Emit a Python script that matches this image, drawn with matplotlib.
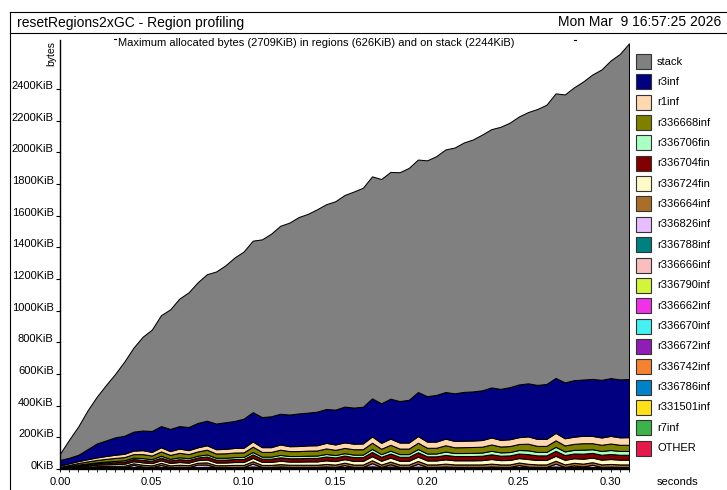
import numpy as np
import matplotlib.pyplot as plt
from matplotlib.lines import Line2D
from matplotlib.patches import Rectangle

plt.rcParams["font.family"] = ["Liberation Sans", "DejaVu Sans"]

W, H = 727, 490

# sample times (seconds)
times = [0.000, 0.005, 0.010, 0.015, 0.020, 0.025, 0.030, 0.035, 0.040, 0.045,
         0.050, 0.055, 0.060, 0.065, 0.070, 0.075, 0.080, 0.085, 0.090, 0.095,
         0.100, 0.105, 0.110, 0.115, 0.120, 0.125, 0.130, 0.135, 0.140, 0.145,
         0.150, 0.155, 0.160, 0.165, 0.170, 0.175, 0.180, 0.185, 0.190, 0.195,
         0.200, 0.205, 0.210, 0.215, 0.220, 0.225, 0.230, 0.235, 0.240, 0.245,
         0.250, 0.255, 0.260, 0.265, 0.270, 0.275, 0.280, 0.285, 0.290, 0.295,
         0.300, 0.305, 0.310]

# KiB per band at each sample
stack = [40, 115, 180, 245, 295, 350, 400, 468, 530, 592,
         640, 700, 755, 805, 850, 888, 925, 960, 990, 1032,
         1055, 1083, 1122, 1153, 1187, 1212, 1240, 1255, 1278, 1293,
         1316, 1336, 1364, 1383, 1402, 1416, 1432, 1445, 1464, 1468,
         1489, 1508, 1532, 1552, 1575, 1591, 1615, 1631, 1655, 1670,
         1692, 1713, 1742, 1763, 1797, 1818, 1849, 1882, 1922, 1960,
         2006, 2055, 2120]
r3inf = [35, 35, 40, 63, 88, 98, 110, 114, 120, 124,
         132, 134, 140, 142, 146, 154, 155, 162, 168, 170,
         184, 185, 190, 195, 194, 200, 206, 207, 212, 214,
         220, 226, 228, 232, 240, 250, 252, 262, 270, 278,
         287, 295, 294, 301, 308, 310, 314, 316, 322, 329,
         333, 335, 341, 347, 347, 353, 357, 355, 360, 364,
         365, 366, 367]
r1inf = [8, 10, 12, 14, 16, 18, 20, 21, 22, 25,
         23, 26, 24, 27, 25, 26, 28, 27, 28, 29,
         29, 33, 30, 30, 33, 31, 32, 33, 33, 35,
         34, 35, 35, 36, 40, 37, 39, 38, 38, 42,
         39, 39, 42, 40, 41, 41, 42, 44, 42, 43,
         43, 46, 44, 44, 47, 45, 45, 47, 46, 46,
         48, 47, 48]
r336668inf = [4, 7, 10, 13, 15, 17, 19, 20, 22, 25,
              23, 27, 25, 28, 26, 27, 30, 27, 28, 29,
              29, 34, 30, 30, 33, 31, 31, 32, 32, 35,
              33, 33, 34, 34, 39, 34, 37, 35, 35, 40,
              36, 36, 40, 36, 37, 37, 37, 40, 37, 38,
              38, 42, 38, 38, 41, 38, 38, 41, 38, 39,
              41, 39, 39]
r336706fin = [2, 3, 4, 5, 6, 7, 8, 9, 9, 11,
              10, 12, 10, 12, 11, 11, 13, 12, 12, 12,
              13, 15, 13, 13, 15, 14, 14, 14, 15, 16,
              15, 15, 16, 16, 19, 17, 18, 17, 17, 20,
              18, 18, 21, 19, 19, 20, 20, 22, 21, 21,
              22, 24, 22, 22, 25, 23, 23, 25, 23, 24,
              25, 24, 24]
r336704fin = [2, 4, 6, 8, 9, 11, 12, 13, 14, 16,
              15, 17, 16, 18, 17, 17, 19, 18, 18, 19,
              19, 22, 20, 20, 22, 21, 21, 22, 22, 24,
              23, 23, 24, 24, 27, 25, 26, 25, 25, 28,
              26, 26, 28, 27, 27, 27, 28, 30, 28, 29,
              29, 31, 29, 29, 32, 30, 30, 32, 30, 31,
              32, 31, 31]
r336724fin = [2, 4, 6, 7, 9, 10, 11, 12, 13, 15,
              14, 16, 15, 17, 16, 16, 18, 17, 17, 18,
              18, 21, 19, 19, 21, 20, 20, 21, 21, 23,
              22, 22, 23, 23, 26, 24, 25, 24, 24, 27,
              25, 25, 27, 26, 26, 26, 27, 29, 27, 28,
              28, 30, 28, 28, 31, 29, 29, 31, 29, 30,
              31, 30, 30]
r336664inf = [1, 3, 4, 5, 6, 7, 8, 9, 10, 12,
              11, 13, 11, 13, 12, 12, 14, 12, 12, 13,
              13, 15, 13, 13, 15, 14, 14, 14, 14, 16,
              15, 15, 15, 15, 18, 15, 17, 15, 15, 18,
              16, 16, 18, 16, 16, 16, 16, 18, 16, 16,
              16, 18, 16, 16, 18, 16, 16, 18, 16, 16,
              17, 16, 16]
r336826inf = [0, 0, 0, 0, 0, 0, 0, 0, 14, 0,
              0, 12, 0, 0, 0, 16, 14, 0, 0, 0,
              0, 18, 0, 0, 0, 0, 0, 0, 0, 0,
              0, 12, 0, 0, 20, 0, 14, 0, 0, 18,
              0, 0, 0, 0, 0, 0, 0, 0, 0, 0,
              12, 0, 0, 0, 18, 0, 10, 0, 14, 0,
              0, 0, 0]
r336788inf = [0, 1, 1, 1, 2, 2, 2, 2, 2, 3,
              2, 3, 2, 3, 2, 2, 3, 2, 2, 3,
              3, 4, 3, 3, 4, 3, 3, 3, 3, 4,
              3, 3, 3, 3, 5, 3, 4, 3, 3, 4,
              3, 3, 4, 3, 3, 3, 3, 4, 3, 3,
              3, 4, 3, 3, 4, 3, 3, 4, 3, 3,
              4, 3, 3]
r336666inf = [0, 0, 1, 1, 1, 1, 1, 1, 1, 2,
              1, 2, 1, 2, 1, 1, 2, 1, 1, 1,
              1, 2, 1, 1, 2, 1, 1, 1, 1, 2,
              1, 1, 1, 1, 2, 1, 2, 1, 1, 2,
              1, 1, 2, 1, 1, 1, 1, 2, 1, 1,
              1, 2, 1, 1, 2, 1, 1, 2, 1, 1,
              2, 1, 1]
r336790inf = [0, 0, 1, 1, 1, 1, 1, 1, 1, 1,
              1, 1, 1, 1, 1, 1, 1, 1, 1, 1,
              1, 2, 1, 1, 1, 1, 1, 1, 1, 1,
              1, 1, 1, 1, 2, 1, 1, 1, 1, 1,
              1, 1, 1, 1, 1, 1, 1, 1, 1, 1,
              1, 1, 1, 1, 2, 1, 1, 1, 1, 1,
              1, 1, 1]
r336662inf = [0, 1, 1, 1, 1, 1, 1, 1, 1, 2,
              1, 1, 1, 1, 1, 1, 1, 1, 1, 1,
              1, 1, 1, 1, 2, 1, 1, 1, 1, 1,
              1, 1, 1, 1, 1, 1, 2, 1, 1, 1,
              1, 1, 2, 1, 1, 1, 1, 1, 1, 1,
              1, 1, 1, 1, 1, 1, 1, 2, 1, 1,
              1, 1, 1]
r336670inf = [0, 0, 0, 1, 1, 1, 1, 1, 1, 1,
              1, 1, 1, 1, 1, 1, 1, 1, 1, 1,
              1, 1, 1, 1, 1, 1, 1, 1, 1, 1,
              1, 1, 1, 1, 1, 1, 1, 1, 1, 1,
              1, 1, 1, 1, 1, 1, 1, 1, 1, 1,
              1, 1, 1, 1, 1, 1, 1, 1, 1, 1,
              1, 1, 1]
r336672inf = [0, 0, 1, 1, 1, 1, 1, 1, 1, 1,
              1, 1, 1, 1, 1, 1, 1, 1, 1, 1,
              1, 1, 1, 1, 1, 1, 1, 1, 1, 2,
              1, 1, 1, 1, 1, 1, 1, 1, 1, 1,
              1, 1, 1, 1, 1, 1, 1, 2, 1, 1,
              1, 1, 1, 1, 1, 1, 1, 1, 1, 1,
              1, 1, 1]
r336742inf = [0, 0, 0, 0, 1, 1, 1, 1, 1, 1,
              1, 1, 1, 1, 1, 1, 1, 1, 1, 1,
              1, 1, 1, 1, 1, 1, 1, 1, 1, 1,
              1, 1, 1, 1, 1, 1, 1, 1, 1, 1,
              1, 1, 1, 1, 1, 1, 1, 1, 1, 1,
              1, 1, 1, 1, 1, 1, 1, 1, 1, 1,
              1, 1, 1]
r336786inf = [0, 0, 0, 1, 1, 1, 1, 1, 1, 1,
              1, 1, 1, 1, 1, 1, 1, 1, 1, 1,
              1, 1, 1, 1, 1, 1, 1, 1, 1, 1,
              1, 1, 1, 1, 1, 1, 1, 1, 1, 1,
              1, 1, 1, 1, 1, 1, 1, 1, 1, 1,
              1, 1, 1, 1, 1, 1, 1, 1, 1, 1,
              1, 1, 1]
r331501inf = [1, 1, 1, 1, 1, 1, 1, 1, 1, 1,
              1, 1, 1, 1, 1, 1, 1, 1, 1, 1,
              1, 1, 1, 1, 1, 1, 1, 1, 1, 1,
              1, 1, 1, 1, 1, 1, 1, 1, 1, 1,
              1, 1, 1, 1, 1, 1, 1, 1, 1, 1,
              1, 1, 1, 1, 1, 1, 1, 1, 1, 1,
              1, 1, 1]
r7inf = [1, 1, 1, 1, 1, 1, 1, 1, 1, 1,
         1, 1, 1, 1, 1, 1, 1, 1, 1, 1,
         1, 1, 1, 1, 1, 1, 1, 1, 1, 1,
         1, 1, 1, 1, 1, 1, 1, 1, 1, 1,
         1, 1, 1, 1, 1, 1, 1, 1, 1, 1,
         1, 1, 1, 1, 1, 1, 1, 1, 1, 1,
         1, 1, 1]
other = [1, 1, 1, 1, 1, 1, 1, 1, 1, 1,
         1, 1, 1, 1, 1, 1, 1, 1, 1, 1,
         1, 1, 1, 1, 1, 1, 1, 1, 1, 1,
         1, 1, 1, 1, 1, 1, 1, 1, 1, 1,
         1, 1, 1, 1, 1, 1, 1, 1, 1, 1,
         1, 1, 1, 1, 1, 1, 1, 1, 1, 1,
         1, 1, 1]

# top of the legend first, which is also the top of the stack
bands = [
    ("stack", stack, "#808080"),
    ("r3inf", r3inf, "#000080"),
    ("r1inf", r1inf, "#ffd8b1"),
    ("r336668inf", r336668inf, "#808000"),
    ("r336706fin", r336706fin, "#aaffc3"),
    ("r336704fin", r336704fin, "#800000"),
    ("r336724fin", r336724fin, "#fffac8"),
    ("r336664inf", r336664inf, "#aa6e28"),
    ("r336826inf", r336826inf, "#e6beff"),
    ("r336788inf", r336788inf, "#008080"),
    ("r336666inf", r336666inf, "#fabebe"),
    ("r336790inf", r336790inf, "#d2f53c"),
    ("r336662inf", r336662inf, "#f032e6"),
    ("r336670inf", r336670inf, "#46f0f0"),
    ("r336672inf", r336672inf, "#911eb4"),
    ("r336742inf", r336742inf, "#f58231"),
    ("r336786inf", r336786inf, "#0082c8"),
    ("r331501inf", r331501inf, "#ffe119"),
    ("r7inf", r7inf, "#3cb44b"),
    ("OTHER", other, "#e6194b"),
]

ytick_vals = [0, 200, 400, 600, 800, 1000, 1200, 1400, 1600, 1800, 2000, 2200, 2400]
xtick_vals = [0.00, 0.05, 0.10, 0.15, 0.20, 0.25, 0.30]


def fx(px):
    return px / W


def fy(py):
    return 1 - py / H


fig = plt.figure(figsize=(W / 100, H / 100), dpi=100)

ax = fig.add_axes([fx(60), fy(469), (629 - 60) / W, (469 - 40) / H])
base = np.zeros(len(times))
for name, vals, col in reversed(bands):
    top = base + np.array(vals, dtype=float)
    ax.fill_between(times, base, top, facecolor=col, edgecolor="black",
                    linewidth=0.75)
    base = top

ax.set_xlim(0, 0.31)
ax.set_ylim(0, 2709)
for s in ("top", "right"):
    ax.spines[s].set_visible(False)
for s in ("left", "bottom"):
    ax.spines[s].set_linewidth(1.0)
    ax.spines[s].set_color("black")

ax.set_xticks(xtick_vals)
ax.set_xticklabels(["%.2f" % v for v in xtick_vals], fontsize=8)
ax.set_xticks(times, minor=True)
ax.tick_params(axis="x", which="major", length=2, width=0.6, pad=4)
ax.tick_params(axis="x", which="minor", length=2, width=0.6)

ax.set_yticks(ytick_vals)
ax.set_yticklabels(["%dKiB" % v for v in ytick_vals], fontsize=8)
ax.tick_params(axis="y", which="major", length=3, width=0.8, pad=1.5)
for lbl in ax.get_yticklabels():
    lbl.set_verticalalignment("baseline")

# page border and title box
fig.add_artist(Line2D([fx(10), fx(10)], [fy(12), fy(490)], color="black", lw=0.8))
fig.add_artist(Line2D([fx(10), fx(727)], [fy(12), fy(12)], color="black", lw=0.8))
fig.add_artist(Line2D([fx(10), fx(727)], [fy(33), fy(33)], color="black", lw=0.8))

fig.text(fx(17), fy(22.5), "resetRegions2xGC - Region profiling", fontsize=10,
         va="center", ha="left")
fig.text(fx(721), fy(22.5), "Mon Mar  9 16:57:25 2026", fontsize=10,
         va="center", ha="right")
fig.text(fx(118), fy(46), "Maximum allocated bytes (2709KiB) in regions (626KiB) "
         "and on stack (2244KiB)", fontsize=8, va="baseline", ha="left")
fig.add_artist(Line2D([fx(114), fx(115.5)], [fy(39), fy(39)], color="black", lw=0.8))
fig.add_artist(Line2D([fx(574), fx(575.5)], [fy(40), fy(40)], color="black", lw=0.8))

fig.text(fx(51), fy(53), "bytes", fontsize=7.5, rotation=90, va="center", ha="center")
fig.text(fx(657), fy(482), "seconds", fontsize=8, va="center", ha="left")

# legend column
for k, (name, vals, col) in enumerate(bands):
    cy = 61.5 + 20.35 * k
    fig.add_artist(Rectangle((fx(636), fy(cy + 7.5)), 15 / W, 15 / H,
                             facecolor=col, edgecolor="#333333", lw=0.8,
                             transform=fig.transFigure))
    fig.text(fx(657), fy(cy), name, fontsize=8, va="center", ha="left")

fig.savefig("out.png", dpi=100)
